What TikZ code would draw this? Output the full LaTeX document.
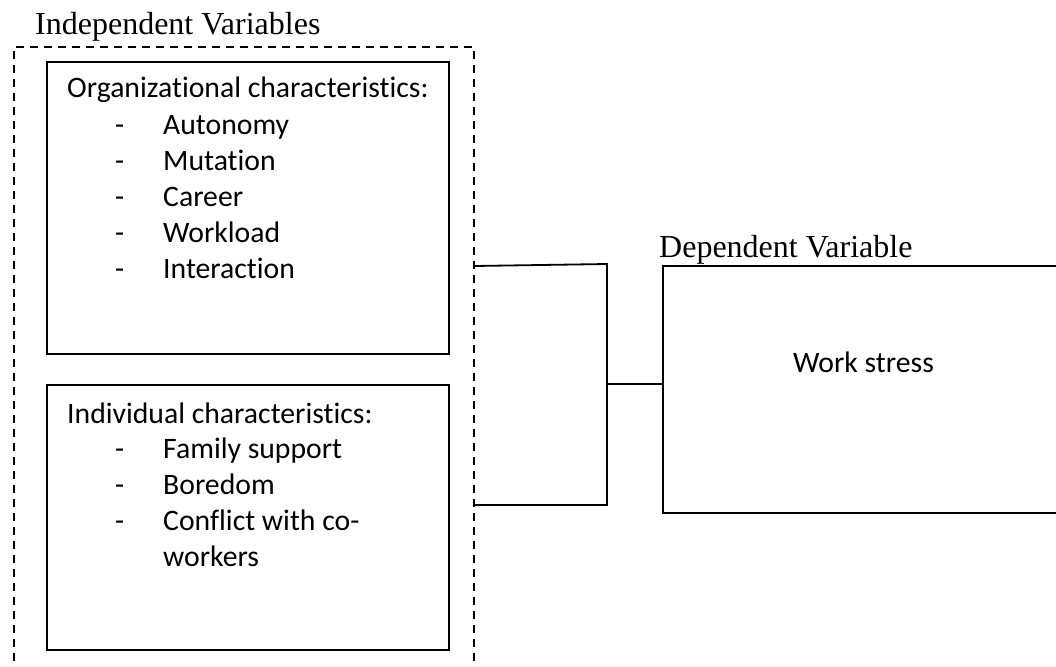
\documentclass[tikz,border=0pt]{standalone}
\usepackage{fontspec}
\setmainfont{Liberation Serif}
\newfontfamily\calib[Ligatures=NoCommon]{Carlito}
\begin{document}
\begin{tikzpicture}[x=1pt,y=-1pt,
  boxline/.style={draw=black,line width=2pt,rectangle,inner sep=0pt,anchor=north west},
  dashbox/.style={draw=black,line width=1.6pt,dash pattern=on 8pt off 6pt,rectangle,inner sep=0pt,anchor=north west},
  link/.style={draw=black,line width=1.8pt},
  title/.style={inner sep=0pt,anchor=base west,font=\fontsize{32}{38}\selectfont},
  body/.style={inner sep=0pt,anchor=base west,font=\calib\fontsize{29.7}{36}\selectfont}]
\useasboundingbox (0,0) rectangle (1056,666);
\clip (0,0) rectangle (1056,666);
\fill[white] (0,0) rectangle (1056,666);
% boxes
\node[dashbox,minimum width=460pt,minimum height=700pt] (indep) at (13,46) {};
\node[boxline,minimum width=402pt,minimum height=292pt] (org) at (46,61) {};
\node[boxline,minimum width=402pt,minimum height=265pt] (ind) at (46,384) {};
\node[boxline,minimum width=500pt,minimum height=247pt] (work) at (662,265) {};
% titles
\node[title] (tindep) at (35,35) {Independent Variables};
\node[title] (tdep) at (659,257) {Dependent Variable};
% organizational
\node[body] (oh) at (67,98) {Organizational characteristics:};
\foreach \t [count=\i] in {Autonomy,Mutation,Career,Workload,Interaction}{
  \node[body] (od\i) at (115,98+36*\i) {-};
  \node[body] (ot\i) at (163,98+36*\i) {\t};
}
% individual
\node[body] (ih) at (67,423) {Individual characteristics:};
\foreach \t [count=\i] in {Family support,Boredom,Conflict with co-}{
  \node[body] (id\i) at (115,423+35.7*\i) {-};
  \node[body] (it\i) at (163,423+35.7*\i) {\t};
}
\node[body] (it4) at (163,566) {workers};
% work stress
\node[body] (ws) at (793,372) {Work stress};
% connectors
\coordinate (j1) at (607,264);
\coordinate (j2) at (607,505);
\coordinate (jm) at (607,384);
\draw[link] (indep.east |- 0,266) -- (j1) -- (j2) -- (indep.east |- j2);
\draw[link] (jm) -- (work.west |- jm);
\end{tikzpicture}
\end{document}
